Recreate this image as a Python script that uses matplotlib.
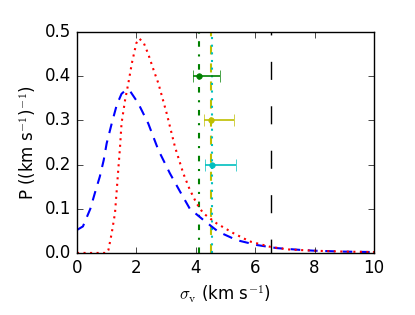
import matplotlib
matplotlib.use('agg')
import matplotlib.pyplot as plt

# blue dashed curve
blue_x = [0.0, 0.2, 0.45, 0.6, 0.77, 0.9, 1.0, 1.17, 1.34, 1.5, 1.65, 1.8, 2.06, 2.4, 2.74,
          3.13, 3.47, 3.8, 4.25, 4.76, 5.38, 6.05, 6.72, 7.5, 8.0, 9.0, 10.0]
blue_y = [0.052, 0.06, 0.10, 0.135, 0.173, 0.21, 0.248, 0.293, 0.335, 0.36, 0.369, 0.365, 0.339,
          0.293, 0.233, 0.18, 0.139, 0.10, 0.075, 0.048, 0.029, 0.018, 0.011, 0.007, 0.005, 0.003, 0.002]

# red dotted curve
red_x = [0.0, 0.5, 1.0, 1.06, 1.17, 1.28, 1.34, 1.39, 1.45, 1.5, 1.62, 1.73, 1.85, 2.0, 2.1, 2.25,
         2.4, 2.6, 2.74, 3.02, 3.3, 3.58, 3.8, 4.03, 4.25, 4.7, 5.26, 5.82, 6.5, 7.1, 8.0, 9.0, 10.0]
red_y = [0.0, 0.0, 0.0, 0.007, 0.045, 0.09, 0.143, 0.188, 0.24, 0.293, 0.346, 0.384, 0.43, 0.475,
         0.485, 0.475, 0.45, 0.41, 0.384, 0.316, 0.24, 0.18, 0.143, 0.112, 0.09, 0.067, 0.045, 0.026,
         0.014, 0.008, 0.005, 0.003, 0.002]

# measured dispersions with errors
meas_x = [4.1, 4.51, 4.56]
meas_y = [0.4, 0.3, 0.2]
err_lo = [0.19, 0.22, 0.24]
err_hi = [0.71, 0.79, 0.79]
meas_col = ['g', 'y', 'c']
limit_x = 6.53

plt.style.use('classic')
plt.rcParams['lines.scale_dashes'] = False
fig = plt.figure(figsize=(4.15, 3.15), dpi=100)
ax = fig.add_axes([0.1855, 0.197, 0.7155, 0.7015])

ax.axvline(meas_x[0], color='g', ls=(0, (4, 5.5, 1.5, 5.5)), lw=1.5)
ax.axvline(meas_x[1], color='y', ls=(0, (6.5, 6.5)), lw=1.5)
ax.axvline(meas_x[2], color='c', ls=(0, (1.5, 4)), lw=1.5)
ax.axvline(limit_x, color='k', ls=(3, (13, 19)), lw=1)

ax.plot(blue_x, blue_y, color='b', ls=(0, (7, 5.5)), lw=1.5)
ax.plot(red_x, red_y, color='r', ls=(0, (1.5, 3.2)), lw=1.5)

for x, y, lo, hi, c in zip(meas_x, meas_y, err_lo, err_hi, meas_col):
    ax.errorbar([x], [y], xerr=[[lo], [hi]], fmt='o', color=c, ecolor=c, mec=c,
                ms=4, capsize=4, elinewidth=1.2)

ax.set_xlim(0, 10)
ax.set_ylim(0, 0.5)
ax.set_xticks([0, 2, 4, 6, 8, 10])
ax.set_yticks([0.0, 0.1, 0.2, 0.3, 0.4, 0.5])
ax.tick_params(labelsize=12)
ax.set_xlabel(r'$\sigma_{\rm v}$ (km s$^{-1}$)', fontsize=12)
ax.set_ylabel(r'P ((km s$^{-1}$)$^{-1}$)', fontsize=12)

fig.savefig('out.png', dpi=100)
